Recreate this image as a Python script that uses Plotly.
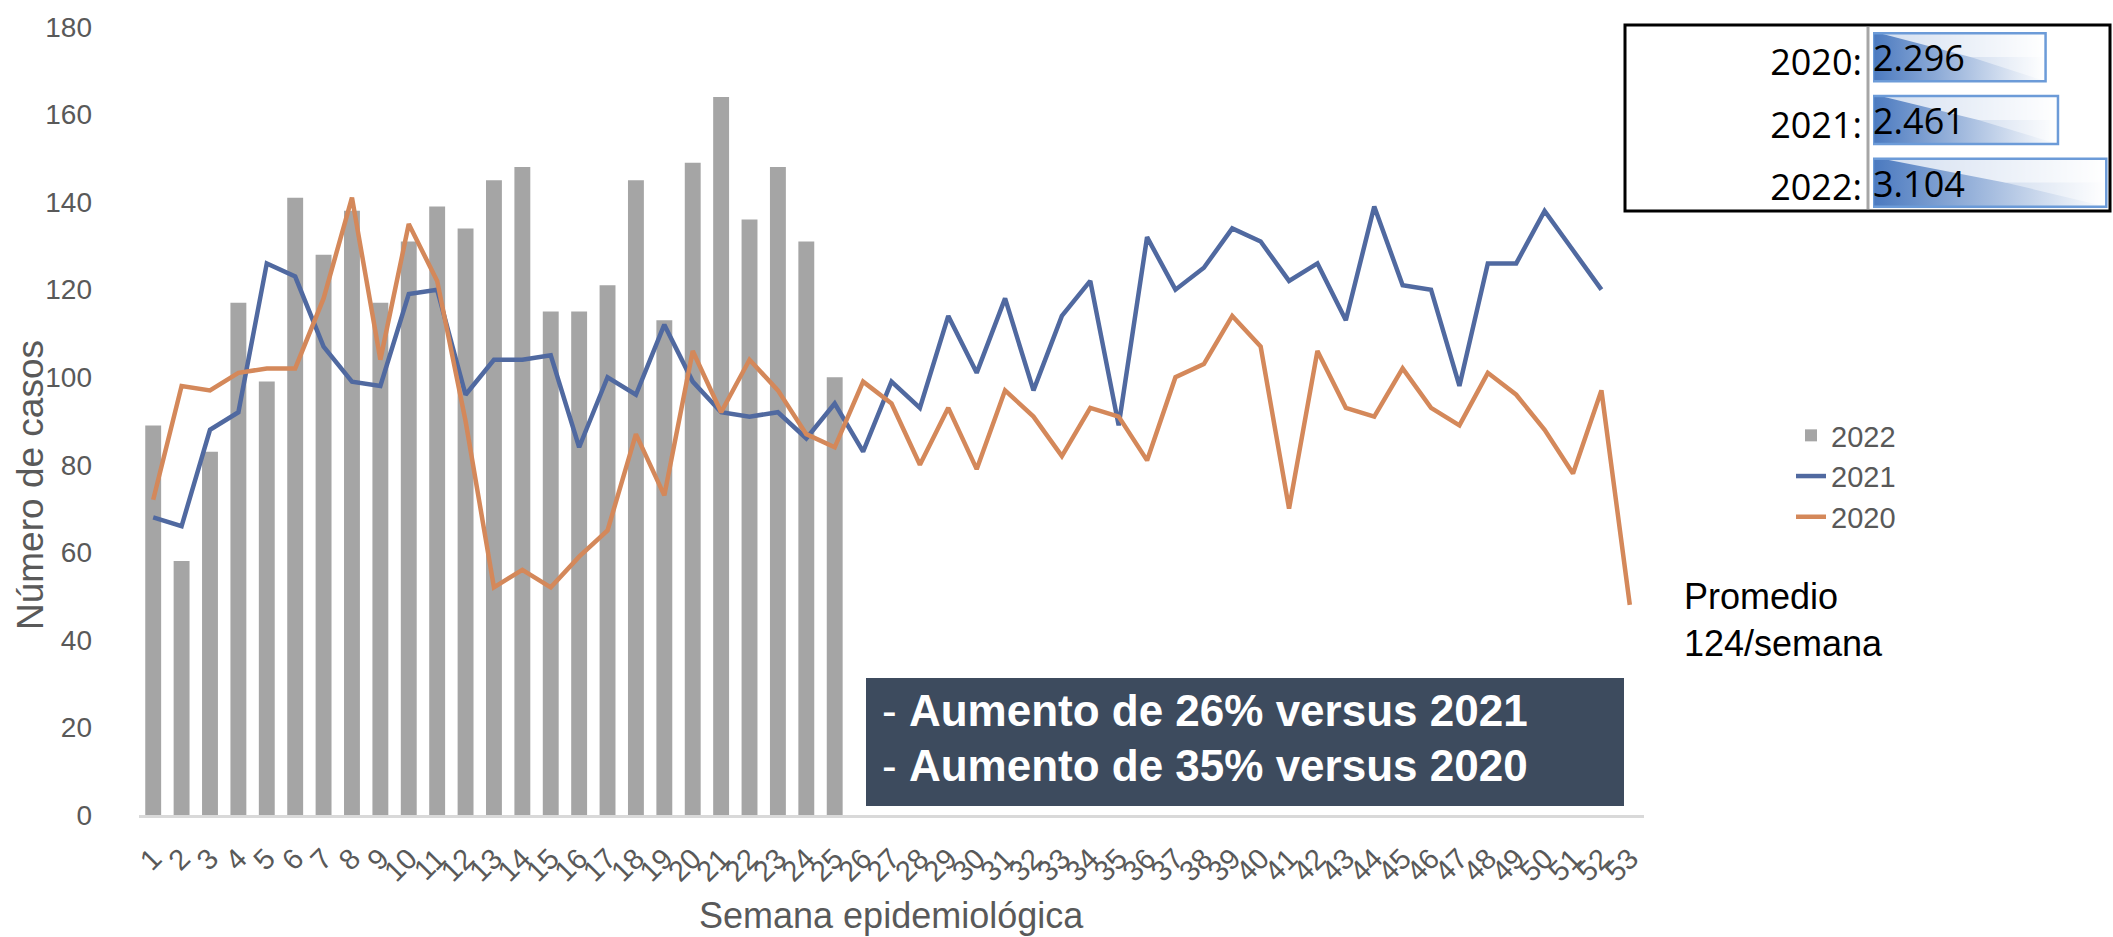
import plotly.graph_objects as go

# ---------------- data ----------------
weeks = [str(i) for i in range(1, 54)]

cases_2022 = [89, 58, 83, 117, 99, 141, 128, 138, 117, 131, 139, 134, 145, 148, 115,
              115, 121, 145, 113, 149, 164, 136, 148, 131, 100]

cases_2021 = [68, 66, 88, 92, 126, 123, 107, 99, 98, 119, 120, 96, 104, 104, 105,
              84, 100, 96, 112, 99, 92, 91, 92, 86, 94,
              83, 99, 93, 114, 101, 118, 97, 114, 122, 89, 132, 120, 125, 134, 131,
              122, 126, 113, 139, 121, 120, 98, 126, 126, 138, 129, 120]

cases_2020 = [72, 98, 97, 101, 102, 102, 118, 141, 104, 135, 122, 90, 52, 56, 52,
              59, 65, 87, 73, 106, 92, 104, 97, 87, 84,
              99, 94, 80, 93, 79, 97, 91, 82, 93, 91, 81, 100, 103, 114, 107,
              70, 106, 93, 91, 102, 93, 89, 101, 96, 88, 78, 97, 48]

total_labels = ["2020:", "2021:", "2022:"]
total_values = [2296, 2461, 3104]

y_ticks = list(range(0, 181, 20))

box_lines = ["- <b>Aumento de 26% versus 2021</b>", "- <b>Aumento de 35% versus 2020</b>"]
note_text = "Promedio<br>124/semana"

# ---------------- layout helpers (pixel -> paper; margins are zero) ----------------
W, H = 2113, 937

def px(x):
    return x / W

def py(y):
    return 1 - y / H

def clamp(v):
    return max(0.0, min(1.0, v))

FONT = "Liberation Sans, Arial, sans-serif"
GRAY_TXT = "#595959"
NUM_FONT = "Open Sans, Liberation Sans, sans-serif"

fig = go.Figure()

fig.add_trace(go.Bar(x=weeks[:len(cases_2022)], y=cases_2022, name="2022",
                     marker=dict(color="#A5A5A5", line=dict(width=0))))
fig.add_trace(go.Scatter(x=weeks[:len(cases_2021)], y=cases_2021, name="2021", mode="lines",
                         line=dict(color="#5069A0", width=4.5)))
fig.add_trace(go.Scatter(x=weeks[:len(cases_2020)], y=cases_2020, name="2020", mode="lines",
                         line=dict(color="#D4885A", width=4.5)))

# data bars of totals (second axis pair), gradient fill + light wedge
for i, v in enumerate(total_values):
    h = 0.383
    fig.add_trace(go.Scatter(
        x=[0, v, v, 0, 0], y=[i - h, i - h, i + h, i + h, i - h],
        xaxis="x2", yaxis="y2", mode="lines", fill="toself",
        line=dict(width=0),
        fillgradient=dict(type="horizontal",
                          colorscale=[[0, "#4A79BF"], [1, "#FFFFFF"]]),
        showlegend=False, hoverinfo="skip"))
    fig.add_trace(go.Scatter(
        x=[0.04 * v, v, v, 0.57 * v, 0.04 * v], y=[i - h, i - h, i, i, i - h],
        xaxis="x2", yaxis="y2", mode="lines", fill="toself",
        line=dict(width=0), fillcolor="rgba(255,255,255,0.75)",
        showlegend=False, hoverinfo="skip"))
    fig.add_trace(go.Scatter(
        x=[0.57 * v, v, v, 0.57 * v], y=[i, i, i + h, i],
        xaxis="x2", yaxis="y2", mode="lines", fill="toself",
        line=dict(width=0), fillcolor="rgba(255,255,255,0.45)",
        showlegend=False, hoverinfo="skip"))
    fig.add_trace(go.Scatter(
        x=[0, v, v, 0, 0], y=[i - h, i - h, i + h, i + h, i - h],
        xaxis="x2", yaxis="y2", mode="lines",
        line=dict(color="#6C9BD8", width=2.5),
        showlegend=False, hoverinfo="skip"))
fig.add_trace(go.Scatter(
    x=[0] * len(total_values), y=[i + 0.08 for i in range(len(total_values))],
    text=[f"{v:,}".replace(",", ".") for v in total_values],
    mode="text", textposition="middle right",
    textfont=dict(family=NUM_FONT, size=36, color="black"),
    xaxis="x2", yaxis="y2", showlegend=False, hoverinfo="skip", cliponaxis=False))

fig.update_layout(
    width=W, height=H,
    margin=dict(l=0, r=0, t=0, b=0, autoexpand=False),
    paper_bgcolor="white", plot_bgcolor="white",
    font=dict(family=FONT, color=GRAY_TXT),
    bargap=0.44,
    showlegend=True,
    legend=dict(x=px(1791), y=py(410), xanchor="left", yanchor="top",
                font=dict(size=29, color=GRAY_TXT), bgcolor="rgba(0,0,0,0)",
                itemwidth=30, tracegroupgap=0),
    xaxis=dict(domain=[px(139), px(1644)], type="category", range=[-0.5, 52.5],
               tickmode="array", tickvals=weeks, ticktext=weeks, automargin=False,
               showline=True, linecolor="#D9D9D9", linewidth=3, showgrid=False,
               zeroline=False, ticks="", tickangle=-45, ticklabelstandoff=12,
               ticklabeloverflow="allow",
               tickfont=dict(size=29, color=GRAY_TXT), anchor="y"),
    yaxis=dict(domain=[py(815), py(27)], range=[0, 180], tickvals=y_ticks,
               automargin=False, ticklabeloverflow="allow",
               showgrid=False, zeroline=False, showline=False, ticks="",
               tickfont=dict(size=28, color=GRAY_TXT), ticklabelstandoff=46,
               anchor="x"),
    xaxis2=dict(domain=[px(1873), clamp(px(2109))], range=[0, 3140], visible=False,
                automargin=False, anchor="y2", fixedrange=True),
    yaxis2=dict(domain=[py(214), py(26)], range=[2.5, -0.5],
                tickvals=[i + 0.08 for i in range(len(total_labels))], ticktext=total_labels,
                automargin=False, ticklabeloverflow="allow",
                showgrid=False, zeroline=False, showline=False, ticks="",
                tickfont=dict(family=NUM_FONT, size=36, color="black"),
                ticklabelstandoff=10, anchor="x2", fixedrange=True),
)

shapes = [
    # dark summary box
    dict(type="rect", xref="paper", yref="paper", x0=px(866), x1=px(1624),
         y0=py(806), y1=py(678), fillcolor="#3D4B5E", line=dict(width=0), layer="above"),
    # totals table border
    dict(type="rect", xref="paper", yref="paper", x0=px(1625), x1=px(2110),
         y0=py(211), y1=py(25), fillcolor="rgba(0,0,0,0)", line=dict(color="black", width=3),
         layer="above"),
    # divider
    dict(type="line", xref="paper", yref="paper", x0=px(1868), x1=px(1868),
         y0=py(209), y1=py(27), line=dict(color="#A6A6A6", width=3), layer="above"),
]
fig.update_layout(shapes=shapes)

annotations = [
    dict(text="Número de casos", xref="paper", yref="paper", x=px(30), y=py(485),
         textangle=-90, showarrow=False, xanchor="center", yanchor="middle",
         font=dict(size=37, color=GRAY_TXT, family=FONT)),
    dict(text="Semana epidemiológica", xref="paper", yref="paper", x=px(891), y=py(915),
         showarrow=False, xanchor="center", yanchor="middle",
         font=dict(size=36, color=GRAY_TXT, family=FONT)),
    dict(text=box_lines[0], xref="paper", yref="paper", x=px(880), y=py(710),
         showarrow=False, xanchor="left", yanchor="middle",
         font=dict(size=44, color="white", family=FONT)),
    dict(text=box_lines[1], xref="paper", yref="paper", x=px(880), y=py(765),
         showarrow=False, xanchor="left", yanchor="middle",
         font=dict(size=44, color="white", family=FONT)),
    dict(text=note_text, xref="paper", yref="paper", x=px(1682), y=py(620),
         showarrow=False, xanchor="left", yanchor="middle", align="left",
         font=dict(size=36, color="black", family=FONT)),
]
fig.update_layout(annotations=annotations)

fig.write_html(
    "out.html",
    config={"displayModeBar": False},
    post_script=("document.documentElement.style.margin='0';"
                 "document.documentElement.style.overflow='hidden';"
                 "document.body.style.margin='0';"
                 "document.body.style.overflow='hidden';"),
)
